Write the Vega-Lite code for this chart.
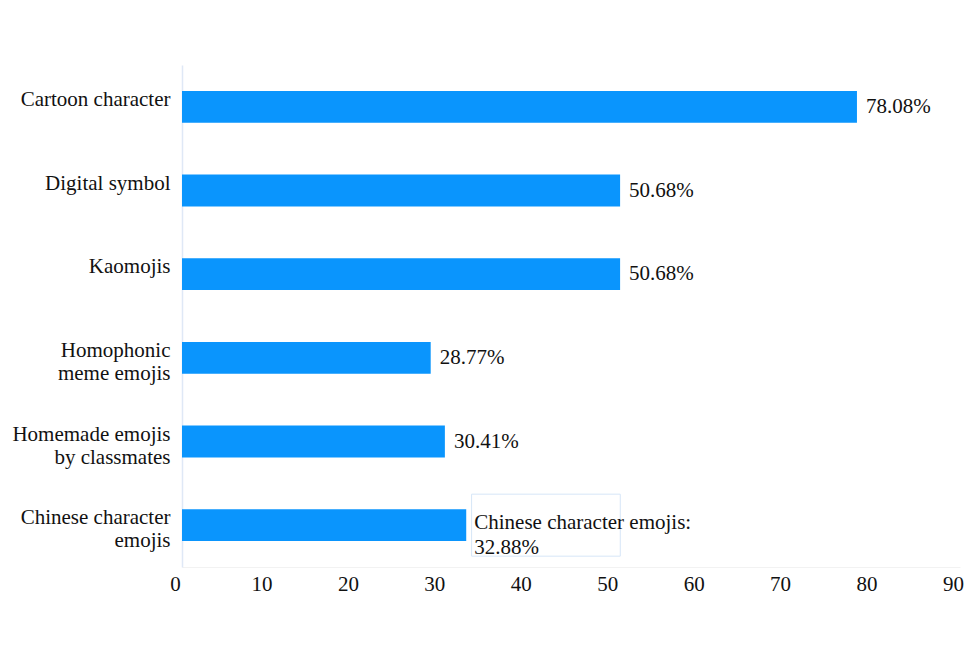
{
  "$schema": "https://vega.github.io/schema/vega-lite/v6.json",
  "autosize": "none",
  "width": 778,
  "height": 502,
  "padding": {"left": 182, "top": 65, "right": 14, "bottom": 84},
  "background": "white",
  "config": {
    "font": "Liberation Serif",
    "view": {"stroke": null}
  },
  "data": {
    "values": [
      {"category": "Cartoon character", "value": 78.08},
      {"category": "Digital symbol", "value": 50.68},
      {"category": "Kaomojis", "value": 50.68},
      {"category": "Homophonic meme emojis", "value": 28.77},
      {"category": "Homemade emojis by classmates", "value": 30.41},
      {"category": "Chinese character emojis", "value": 32.88}
    ]
  },
  "encoding": {
    "y": {
      "field": "category",
      "type": "nominal",
      "sort": null,
      "scale": {"paddingInner": 0.62, "paddingOuter": 0.31},
      "axis": {
        "title": null,
        "ticks": false,
        "labelFont": "Liberation Serif",
        "labelFontSize": 21,
        "labelColor": "#111111",
        "labelPadding": 12,
        "labelOffset": -7,
        "labelLineHeight": 23,
        "labelLimit": 300,
        "domainColor": "#dfe8f6",
        "domainWidth": 1.5,
        "labelExpr": "datum.label == 'Homophonic meme emojis' ? ['Homophonic', 'meme emojis'] : datum.label == 'Homemade emojis by classmates' ? ['Homemade emojis', 'by classmates'] : datum.label == 'Chinese character emojis' ? ['Chinese character', 'emojis'] : datum.label"
      }
    }
  },
  "layer": [
    {
      "mark": {"type": "bar", "color": "#0a95fd"},
      "encoding": {
        "x": {
          "field": "value",
          "type": "quantitative",
          "scale": {"domain": [0, 90], "nice": false},
          "axis": {
            "title": null,
            "values": [0, 10, 20, 30, 40, 50, 60, 70, 80, 90],
            "grid": false,
            "ticks": false,
            "labelFont": "Liberation Serif",
            "labelFontSize": 21,
            "labelColor": "#111111",
            "labelPadding": 6,
            "labelOffset": -7,
            "domainColor": "#f2f2f2",
            "labelFlush": false
          }
        }
      }
    },
    {
      "transform": [{"filter": "datum.category != 'Chinese character emojis'"}],
      "mark": {
        "type": "text",
        "align": "left",
        "baseline": "middle",
        "dx": 9,
        "font": "Liberation Serif",
        "fontSize": 21,
        "color": "#111111",
        "text": {"expr": "format(datum.value, '.2f') + '%'"}
      },
      "encoding": {
        "x": {"field": "value", "type": "quantitative"}
      }
    },
    {
      "transform": [{"filter": "datum.category == 'Chinese character emojis'"}],
      "mark": {
        "type": "bar",
        "size": 62,
        "fill": "white",
        "stroke": "#d6e6f7",
        "strokeWidth": 1
      },
      "encoding": {
        "x": {"datum": 33.5},
        "x2": {"datum": 50.7}
      }
    },
    {
      "transform": [{"filter": "datum.category == 'Chinese character emojis'"}],
      "mark": {
        "type": "text",
        "align": "left",
        "baseline": "middle",
        "dx": 8,
        "dy": -2,
        "font": "Liberation Serif",
        "fontSize": 21,
        "lineHeight": 25,
        "color": "#111111",
        "text": {"expr": "[datum.category + ':', format(datum.value, '.2f') + '%']"}
      },
      "encoding": {
        "x": {"field": "value", "type": "quantitative"}
      }
    }
  ]
}
